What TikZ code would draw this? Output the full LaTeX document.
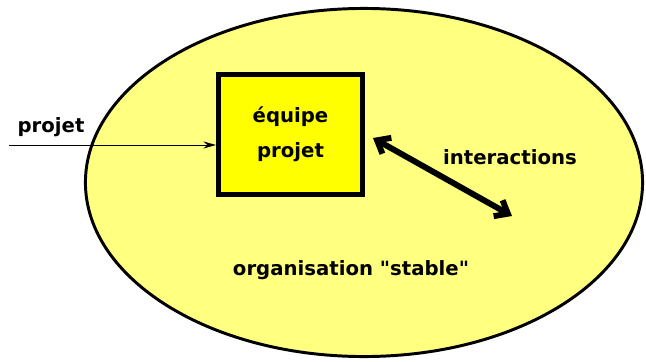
\documentclass[tikz,border=0pt]{standalone}
\usepackage{fontspec}
\setmainfont{DejaVu Sans}
\usetikzlibrary{shapes.geometric, arrows.meta, positioning}

\definecolor{paleyellow}{RGB}{255,255,128}
\definecolor{teamyellow}{RGB}{255,255,0}

\begin{document}
\begin{tikzpicture}[
    x=0.025cm, y=-0.025cm,
    label/.style={font=\bfseries\fontsize{14}{20}\selectfont, inner sep=0pt},
    org/.style={ellipse, draw=black, fill=paleyellow, line width=2.1pt, minimum width=13.925cm, minimum height=8.7cm},
    team/.style={rectangle, draw=black, fill=teamyellow, line width=3.5pt, minimum width=3.6cm, minimum height=3cm, align=center, font=\bfseries\fontsize{14}{25}\selectfont},
    thin arrow/.style={line width=0.7pt, -{Stealth[length=9pt, width=5pt]}},
    link/.style={line width=4.2pt, {Straight Barb[length=8pt, width=13pt]}-{Straight Barb[length=8pt, width=13pt]}}
]
\useasboundingbox (0,0) rectangle (646,362);

% Nodes
\node (orga) [org] at (364,182.5) {};
\node (equipe) [team] at (290.5,134.5) {équipe\\projet};

\node (projet) [label] at (51,127) {projet};
\node (interactions) [label] at (510,157) {interactions};
\node (stable) [label] at (351,270) {organisation \textquotedbl stable\textquotedbl};

\coordinate (entree) at (9,145);
\coordinate (linkA) at (373,138);
\coordinate (linkB) at (512,216);

% Arrows
\draw [thin arrow] (entree) -- (entree -| equipe.west);
\draw [link] (linkA) -- (linkB);

\end{tikzpicture}
\end{document}
